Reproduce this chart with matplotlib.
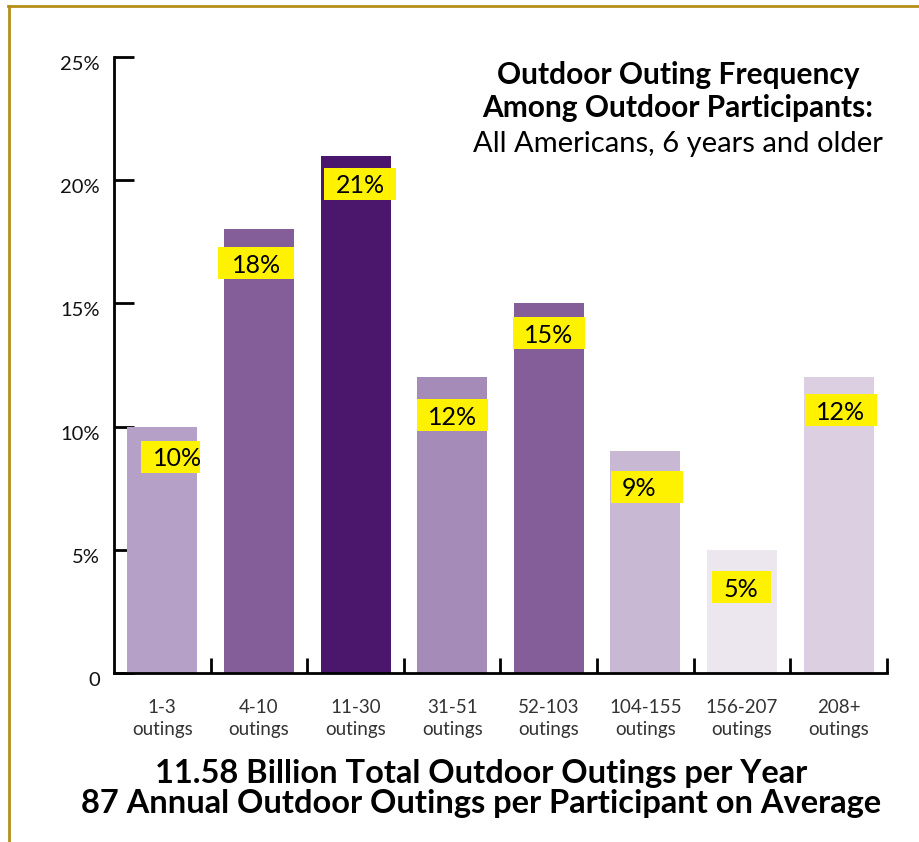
import matplotlib
matplotlib.use("Agg")
import matplotlib.pyplot as plt
from matplotlib.lines import Line2D
from matplotlib.patches import Rectangle
from matplotlib.transforms import ScaledTranslation
import numpy as np

plt.rcParams['font.family'] = ['Lato', 'DejaVu Sans']

categories = ["1-3\noutings", "4-10\noutings", "11-30\noutings", "31-51\noutings",
              "52-103\noutings", "104-155\noutings", "156-207\noutings", "208+\noutings"]
values = [10, 18, 21, 12, 15, 9, 5, 12]
value_labels = ["10%", "18%", "21%", "12%", "15%", "9%", "5%", "12%"]
bar_colors = ["#B5A0C7", "#835E99", "#4B176C", "#A48BB8",
              "#835E99", "#C8B8D4", "#ECE6EF", "#DCCFE2"]
yticks = [0, 5, 10, 15, 20, 25]
ytick_labels = ["0", "5%", "10%", "15%", "20%", "25%"]

title_lines = ["Outdoor Outing Frequency", "Among Outdoor Participants:"]
title_sub = "All Americans, 6 years and older"
footer_lines = ["11.58 Billion Total Outdoor Outings per Year",
                "87 Annual Outdoor Outings per Participant on Average"]

# label box layout (offsets from bar top-centre; x in category units, y in % units)
box_dx = [0.088, -0.027, 0.05, 0.007, 0.0, 0.02, -0.01, 0.02]
box_dy = [-1.23, -1.38, -1.15, -1.53, -1.22, -1.45, -1.51, -1.33]
box_w = [0.61, 0.79, 0.745, 0.735, 0.745, 0.745, 0.61, 0.745]
box_h = 1.3
text_dx = [0.067, 0, 0, 0, 0, -0.083, 0, 0]

W, H = 920, 842
fig = plt.figure(figsize=(W / 100, H / 100), dpi=100)
fig.patch.set_facecolor("white")

ax = fig.add_axes([114 / W, 1 - 673 / H, (887 - 114) / W, (673 - 57) / H])
x = np.arange(len(values))
ax.bar(x, values, width=0.725, color=bar_colors, zorder=2)
ax.set_xlim(-0.5, len(values) - 0.5)
ax.set_ylim(0, 25)

for s in ["top", "right"]:
    ax.spines[s].set_visible(False)
for s in ["left", "bottom"]:
    ax.spines[s].set_linewidth(2.0)
    ax.spines[s].set_color("black")

ax.set_yticks(yticks)
ax.set_yticklabels(ytick_labels, fontsize=14.5, color="#111111")
ax.tick_params(axis="y", direction="in", length=14.5, width=2.0, pad=10)
shift = ScaledTranslation(0, -6 / 100, fig.dpi_scale_trans)
for lab in ax.get_yticklabels():
    lab.set_transform(lab.get_transform() + shift)

ax.set_xticks(x)
ax.set_xticklabels(categories, fontsize=13.5, color="#333333", linespacing=1.3)
ax.tick_params(axis="x", which="major", length=0, pad=19)
ax.set_xticks(np.arange(0.5, len(values), 1.0), minor=True)
ax.tick_params(axis="x", which="minor", direction="in", length=11, width=2.0)

for xi, v, lab, bdx, bdy, bw, tdx in zip(x, values, value_labels, box_dx, box_dy, box_w, text_dx):
    cx, cy = xi + bdx, v + bdy
    ax.add_patch(Rectangle((cx - bw / 2, cy - box_h / 2), bw, box_h,
                           facecolor="#FFF200", edgecolor="none", zorder=3))
    ax.text(cx + tdx, cy, lab, ha="center", va="center_baseline", fontsize=18,
            color="black", zorder=4)

cxf = 678 / W
fig.text(cxf, 1 - 75 / H, title_lines[0], ha="center", va="center", fontsize=21.5, fontweight="bold")
fig.text(cxf, 1 - 108 / H, title_lines[1], ha="center", va="center", fontsize=21.5, fontweight="bold")
fig.text(cxf, 1 - 144 / H, title_sub, ha="center", va="center", fontsize=21)

fig.text(481 / W, 1 - 773 / H, footer_lines[0], ha="center", va="center", fontsize=23.5, fontweight="bold")
fig.text(481 / W, 1 - 803 / H, footer_lines[1], ha="center", va="center", fontsize=23.5, fontweight="bold")

gold = "#B38F1A"
fig.add_artist(Line2D([9 / W, 9 / W], [0, 1 - 6 / H], transform=fig.transFigure,
                      color=gold, linewidth=2.0))
fig.add_artist(Line2D([8 / W, 1], [1 - 6 / H, 1 - 6 / H], transform=fig.transFigure,
                      color=gold, linewidth=2.0))

fig.savefig("out.png", dpi=100, facecolor="white")
